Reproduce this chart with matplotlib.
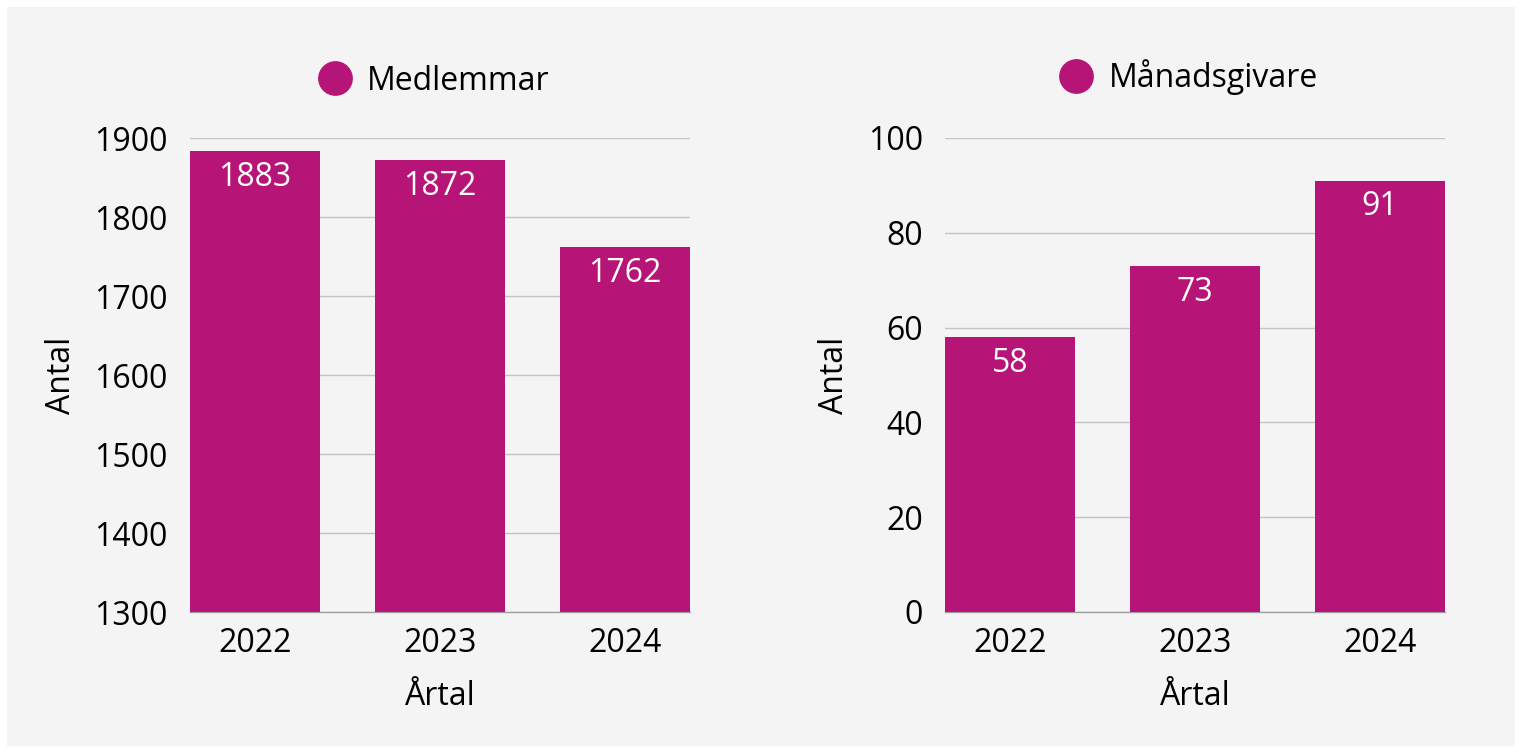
import numpy as np
import matplotlib.pyplot as plt
from matplotlib.lines import Line2D
from matplotlib.patches import Rectangle

plt.rcParams['font.family'] = ['Open Sans', 'DejaVu Sans']

years = ['2022', '2023', '2024']
medlemmar = [1883, 1872, 1762]
manadsgivare = [58, 73, 91]

BAR = '#b71477'
BG = '#f4f4f4'
FS = 23

fig = plt.figure(figsize=(15.21, 7.53), dpi=100)
fig.patch.set_facecolor('white')
fig.patches.append(Rectangle((7/1521, 7/753), 1508/1521, 739/753,
                             transform=fig.transFigure, facecolor=BG,
                             edgecolor='none', zorder=-10))

def draw(ax, vals, ylim, yticks, title, leg_y):
	ax.set_facecolor('none')
	x = np.arange(len(years))
	ax.bar(x, vals, width=0.703, color=BAR, zorder=3)
	for xi, v in zip(x, vals):
		ax.annotate(str(v), (xi, v), xytext=(0, -7), textcoords='offset points',
		            ha='center', va='top', color='white', fontsize=FS, zorder=4)
	ax.set_xlim(-0.3515, 2.3515)
	ax.set_ylim(*ylim)
	ax.set_yticks(yticks)
	ax.set_xticks(x)
	ax.set_xticklabels(years)
	ax.tick_params(length=0, labelsize=FS)
	ax.tick_params(axis='x', pad=11)
	ax.tick_params(axis='y', pad=16)
	ax.yaxis.grid(True, color='#c4c4c4', linewidth=1, zorder=0)
	for s in ['top', 'right', 'left']:
		ax.spines[s].set_visible(False)
	ax.spines['bottom'].set_color('#a0a0a0')
	ax.spines['bottom'].set_linewidth(1)
	ax.set_ylabel('Antal', fontsize=FS, labelpad=12)
	ax.set_xlabel('Årtal', fontsize=FS, labelpad=14)
	h = Line2D([], [], marker='o', color='none', markerfacecolor=BAR,
	           markeredgecolor=BAR, markersize=24)
	ax.legend([h], [title], loc='center', bbox_to_anchor=(0.485, leg_y),
	          frameon=False, fontsize=FS, handletextpad=0.4, handlelength=1.2)

ax1 = fig.add_axes([190/1521, 141/753, 500/1521, 474/753])
draw(ax1, medlemmar, (1300, 1900), [1300, 1400, 1500, 1600, 1700, 1800, 1900],
     'Medlemmar', (753-81-141)/474)

ax2 = fig.add_axes([945/1521, 141/753, 500/1521, 474/753])
draw(ax2, manadsgivare, (0, 100), [0, 20, 40, 60, 80, 100],
     'Månadsgivare', (753-77-141)/474)

fig.savefig('out.png', dpi=100, facecolor=fig.get_facecolor())
